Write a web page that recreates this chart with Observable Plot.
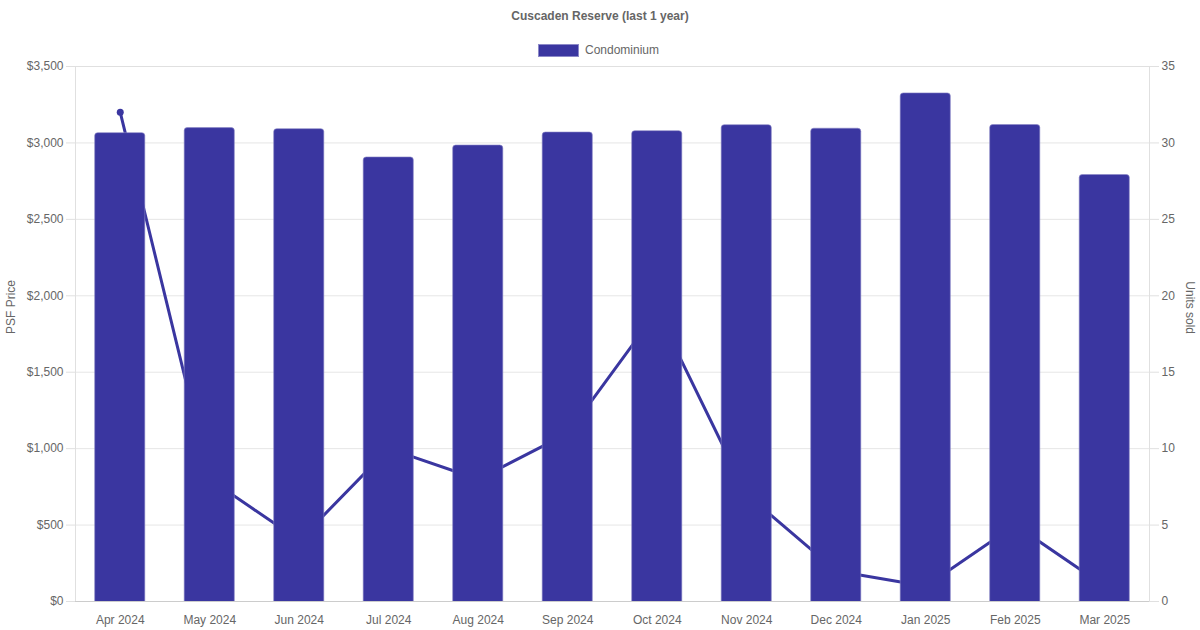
<!DOCTYPE html>
<html>
<head>
<meta charset="utf-8">
<script src="https://cdn.jsdelivr.net/npm/d3@7"></script>
<script src="https://cdn.jsdelivr.net/npm/@observablehq/plot@0.6"></script>
<style>
  body { margin: 0; background: #fff; font-family: "Liberation Sans", Arial, Helvetica, sans-serif; }
  #wrap { position: relative; width: 1200px; height: 630px; overflow: hidden; }
  #chart { position: absolute; left: 0; top: 0; }
  #title { position: absolute; top: 9px; left: 0; width: 1200px; text-align: center; font-weight: bold; font-size: 12px; color: #666; }
  #legend { position: absolute; top: 43px; left: 538px; font-size: 12px; color: #666; display: flex; align-items: center; }
  #legend .sw { width: 39px; height: 11px; background: #3a36a0; border: 1px solid #8c89c8; margin-right: 6px; box-sizing: content-box; }
</style>
</head>
<body>
<div id="wrap">
  <div id="chart"></div>
  <div id="title">Cuscaden Reserve (last 1 year)</div>
  <div id="legend"><div class="sw"></div><span>Condominium</span></div>
</div>
<script>
const months = ["Apr 2024", "May 2024", "Jun 2024", "Jul 2024", "Aug 2024", "Sep 2024",
                "Oct 2024", "Nov 2024", "Dec 2024", "Jan 2025", "Feb 2025", "Mar 2025"];
const psfPrice = [3064, 3097, 3090, 2905, 2983, 3068, 3077, 3116, 3093, 3324, 3117, 2790];
const unitsSold = [32, 8, 4, 10, 8, 11, 19, 7, 2, 1, 5, 1];
const psfTicks = [0, 500, 1000, 1500, 2000, 2500, 3000, 3500];
const unitTicks = [0, 5, 10, 15, 20, 25, 30, 35];

const color = "#3a36a0";
const unitsMax = 35, psfMax = 3500;
const k = psfMax / unitsMax;

const data = months.map((m, i) => ({month: m, psf: psfPrice[i], units: unitsSold[i]}));

const chart = Plot.plot({
  width: 1200,
  height: 630,
  marginTop: 66,
  marginBottom: 29,
  marginLeft: 75,
  marginRight: 51,
  style: {fontFamily: '"Liberation Sans", Arial, Helvetica, sans-serif', fontSize: "12px", background: "#fff", color: "#666"},
  x: {domain: months, paddingInner: 0.44, paddingOuter: 0.22, round: false, label: null},
  y: {domain: [0, psfMax], label: null},
  marks: [
    Plot.gridY(psfTicks, {stroke: "#e6e6e6", strokeOpacity: 1}),
    Plot.frame({stroke: "#e0e0e0"}),
    Plot.axisY(psfTicks, {anchor: "left", tickSize: 9, tickPadding: 3, stroke: "#e0e0e0", fill: "#666",
      tickFormat: d => "$" + d3.format(",")(d), label: null}),
    Plot.axisY(unitTicks.map(u => u * k), {anchor: "right", tickSize: 9, tickPadding: 3, stroke: "#e0e0e0", fill: "#666",
      tickFormat: d => String(d / k), label: null}),
    Plot.axisX({tickSize: 0, tickPadding: 14, fill: "#666", label: null}),
    Plot.text(["PSF Price"], {frameAnchor: "left", rotate: -90, dx: -64, fill: "#666", fontSize: 12}),
    Plot.text(["Units sold"], {frameAnchor: "right", rotate: 90, dx: 40, fill: "#666", fontSize: 12}),
    Plot.line(data, {x: "month", y: d => d.units * k, stroke: color, strokeWidth: 3}),
    Plot.dot(data, {x: "month", y: d => d.units * k, r: 3.5, fill: color, stroke: null}),
    Plot.barY(data, {x: "month", y: "psf", fill: color, stroke: "#8a87c6", strokeWidth: 0.6, rx: 3, insetBottom: -6, clip: true}),
    Plot.ruleY([0], {stroke: "#cccccc"}),
  ]
});
document.getElementById("chart").appendChild(chart);
</script>
</body>
</html>
